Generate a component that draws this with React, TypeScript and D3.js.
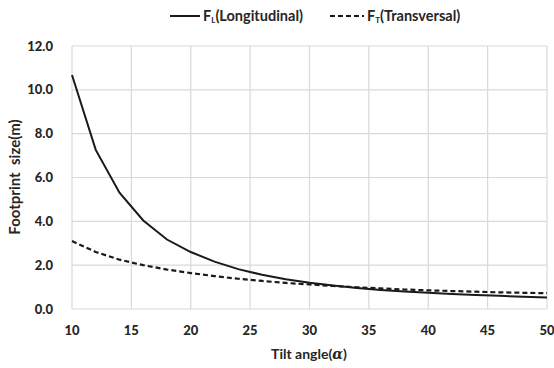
import React from "react";
import * as d3 from "d3";

const angles = [10, 12, 14, 16, 18, 20, 22, 24, 26, 28, 30, 32, 34, 36, 38, 40, 42, 44, 46, 48, 50];
const longitudinal = [10.68, 7.26, 5.31, 4.04, 3.17, 2.6, 2.16, 1.82, 1.56, 1.36, 1.2, 1.07, 0.96, 0.87, 0.8, 0.74, 0.69, 0.64, 0.6, 0.56, 0.53];
const transversal = [3.1, 2.6, 2.25, 2.0, 1.8, 1.64, 1.5, 1.38, 1.28, 1.19, 1.12, 1.05, 0.99, 0.94, 0.89, 0.85, 0.82, 0.79, 0.76, 0.74, 0.72];
const xTicks = [10, 15, 20, 25, 30, 35, 40, 45, 50];
const yTicks = [0, 2, 4, 6, 8, 10, 12];

const W = 554;
const H = 368;
const FONT = "Lato, 'Open Sans', sans-serif";
const TXT = "#262626";

export default function App() {
  const x = d3.scaleLinear().domain([10, 50]).range([72, 547]);
  const y = d3.scaleLinear().domain([0, 12]).range([309, 46]);
  const line = (vals: number[]) =>
    d3
      .line<number>()
      .x((_, i) => x(angles[i]))
      .y((d) => y(d))(vals) as string;

  return (
    <svg width={W} height={H} style={{ position: "absolute", left: 0, top: 0, background: "#fff" }}>
      <rect width={W} height={H} fill="#fff" />
      {yTicks.map((t) => (
        <line key={"gy" + t} x1={x(10)} x2={x(50)} y1={y(t)} y2={y(t)} stroke="#d9d9d9" strokeWidth={1.2} />
      ))}
      {xTicks.map((t) => (
        <line key={"gx" + t} x1={x(t)} x2={x(t)} y1={y(0)} y2={y(12)} stroke="#d9d9d9" strokeWidth={1.2} />
      ))}
      {yTicks.map((t) => (
        <text key={"ty" + t} x={53} y={y(t) + 4.5} textAnchor="end" fontFamily={FONT} fontWeight={900} fontSize={13} fill={TXT}>
          {t.toFixed(1)}
        </text>
      ))}
      {xTicks.map((t) => (
        <text key={"tx" + t} x={x(t)} y={335} textAnchor="middle" fontFamily={FONT} fontWeight={900} fontSize={13} fill={TXT}>
          {t}
        </text>
      ))}
      <path d={line(transversal)} fill="none" stroke="#1a1a1a" strokeWidth={2.2} strokeDasharray="5,3" />
      <path d={line(longitudinal)} fill="none" stroke="#1a1a1a" strokeWidth={2} />
      <text x={309} y={359} textAnchor="middle" fontFamily={FONT} fontWeight={700} fontSize={14} fill={TXT}>
        Tilt angle(<tspan fontStyle="italic" fontWeight={700} fontFamily="'DejaVu Serif', serif">α</tspan>)
      </text>
      <text
        transform={`translate(20,177) rotate(-90)`}
        textAnchor="middle"
        fontFamily={FONT}
        fontWeight={700}
        fontSize={15}
        fill={TXT}
      >
        {"Footprint\u00a0 size(m)"}
      </text>
      <line x1={170} x2={200} y1={16} y2={16} stroke="#1a1a1a" strokeWidth={2} />
      <text x={203} y={21} fontFamily={FONT} fontWeight={700} fontSize={14.5} fill={TXT}>
        F<tspan fontSize={8} dy={2}>L</tspan><tspan dy={-2}>(Longitudinal)</tspan>
      </text>
      <line x1={330} x2={364} y1={16} y2={16} stroke="#1a1a1a" strokeWidth={2} strokeDasharray="5,3" />
      <text x={367} y={21} fontFamily={FONT} fontWeight={700} fontSize={14.5} fill={TXT}>
        F<tspan fontSize={8} dy={2}>T</tspan><tspan dy={-2}>(Transversal)</tspan>
      </text>
    </svg>
  );
}
